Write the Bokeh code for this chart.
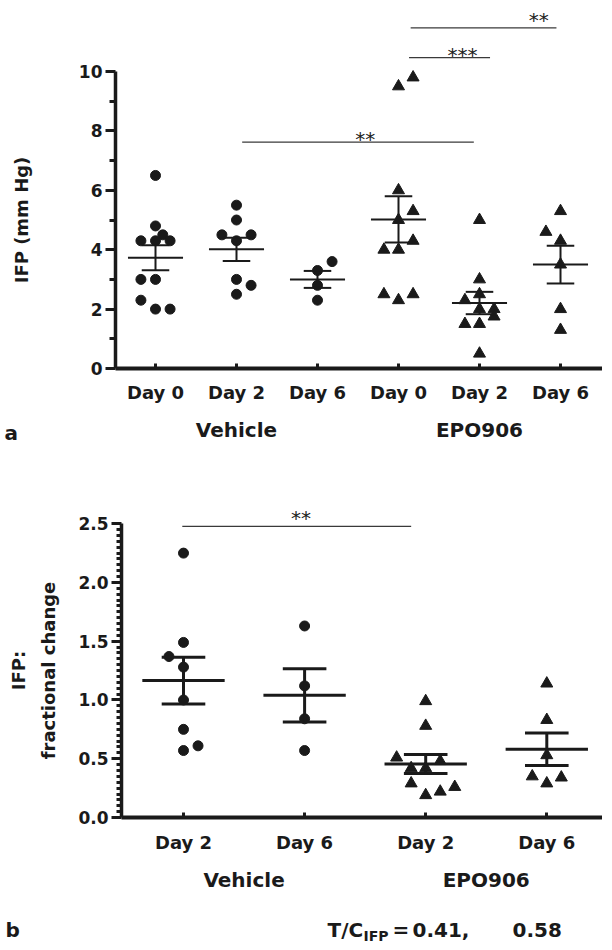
import numpy as np
from bokeh.plotting import figure
from bokeh.models import Range1d, FixedTicker, LinearAxis, ColumnDataSource
from bokeh.layouts import column
from bokeh.core.properties import value
from bokeh.embed import file_html
from bokeh.resources import INLINE

# ---------------- data: panel a (IFP, mm Hg) ----------------
a_tick_labels = ["Day 0", "Day 2", "Day 6", "Day 0", "Day 2", "Day 6"]
a_groups = ["Vehicle", "EPO906"]
a_veh_d0 = [6.5, 4.8, 4.5, 4.3, 4.3, 4.3, 3.0, 3.0, 2.3, 2.0, 2.0]
a_veh_d2 = [5.5, 5.0, 4.5, 4.5, 4.3, 3.0, 2.8, 2.5]
a_veh_d6 = [3.6, 3.3, 2.8, 2.3]
a_epo_d0 = [9.8, 9.5, 6.0, 5.3, 5.0, 4.3, 4.0, 4.0, 2.5, 2.5, 2.3]
a_epo_d2 = [5.0, 3.0, 2.5, 2.3, 2.0, 2.0, 1.75, 1.5, 1.5, 0.5]
a_epo_d6 = [5.3, 4.6, 4.3, 3.5, 2.0, 1.3]
# significance brackets
a_sig_from = [2.07, 4.13, 4.15]
a_sig_to = [4.93, 5.13, 5.95]
a_sig_y = [7.62, 10.47, 11.47]
a_sig_text = ["**", "***", "**"]
a_sig_text_x = [3.59, 4.79, 5.73]

# ---------------- data: panel b (fractional change) ----------------
b_tick_labels = ["Day 2", "Day 6", "Day 2", "Day 6"]
b_groups = ["Vehicle", "EPO906"]
b_veh_d2 = [2.25, 1.49, 1.37, 1.28, 1.0, 0.75, 0.61, 0.57]
b_veh_d6 = [1.63, 1.12, 0.84, 0.57]
b_epo_d2 = [0.99, 0.78, 0.51, 0.48, 0.42, 0.42, 0.29, 0.26, 0.22, 0.19]
b_epo_d6 = [1.14, 0.83, 0.53, 0.35, 0.34, 0.29]
b_sig_from = [0.99]
b_sig_to = [2.88]
b_sig_y = [2.478]
b_sig_text = ["**"]
b_sig_text_x = [1.97]
tc_values = ["0.41,", "0.58"]

# horizontal scatter (jitter) of the points, as drawn
a_jit = [
    [0, 0, 0.09, -0.18, 0, 0.18, -0.18, 0, -0.18, 0, 0.18],
    [0, 0, -0.18, 0.18, 0, 0, 0.18, 0],
    [0.18, 0, 0, 0],
    [0.18, 0, 0, 0.18, 0, 0.18, -0.18, 0, -0.18, 0.18, 0],
    [0, 0, 0, -0.18, 0, 0.18, 0.18, -0.18, 0, 0],
    [0, -0.18, 0, 0, 0, 0],
]
b_jit = [
    [0, 0, -0.12, 0, 0, 0, 0.12, 0],
    [0, 0, 0, 0],
    [0, 0, -0.24, 0.12, -0.12, 0, -0.12, 0.24, 0.12, 0],
    [0, 0, 0, -0.12, 0.12, 0],
]

INK = "#1a1a1a"
FONT = "DejaVu Sans"


def make_fig(w, h, xr, yr):
    p = figure(width=w, height=h, output_backend="svg", toolbar_location=None,
               x_range=Range1d(*xr), y_range=Range1d(*yr),
               x_axis_location=None, y_axis_location=None,
               min_border=0, min_border_left=0, min_border_right=0,
               min_border_top=0, min_border_bottom=0)
    p.grid.visible = False
    p.outline_line_color = None
    p.background_fill_color = "white"
    p.border_fill_color = "white"
    return p


def add_axes(p, x_origin, x_end, ticks, labels, y_major, y_minor, y_top, ylabel, ylabel_standoff,
             ylabel_lh, group_ticks, groups, xlab_standoff, grp_standoff, minor_out):
    xa = LinearAxis(fixed_location=0, bounds=(x_origin, x_end),
                    ticker=FixedTicker(ticks=ticks, minor_ticks=[]))
    xa.major_label_overrides = {t: l for t, l in zip(ticks, labels)}
    xa.axis_line_width = 4
    xa.axis_line_color = INK
    xa.major_tick_in = 5
    xa.major_tick_out = 0
    xa.major_tick_line_width = 3
    xa.major_tick_line_color = INK
    xa.minor_tick_line_color = None
    xa.major_label_text_font = FONT
    xa.major_label_text_font_style = "bold"
    xa.major_label_text_font_size = "18px"
    xa.major_label_text_color = INK
    xa.major_label_standoff = xlab_standoff
    p.add_layout(xa, "below")

    ga = LinearAxis(fixed_location=0, ticker=FixedTicker(ticks=group_ticks, minor_ticks=[]))
    ga.major_label_overrides = {t: g for t, g in zip(group_ticks, groups)}
    ga.axis_line_color = None
    ga.major_tick_line_color = None
    ga.minor_tick_line_color = None
    ga.major_label_text_font = FONT
    ga.major_label_text_font_style = "bold"
    ga.major_label_text_font_size = "20px"
    ga.major_label_text_color = INK
    ga.major_label_standoff = grp_standoff
    p.add_layout(ga, "below")

    ya = LinearAxis(fixed_location=x_origin, bounds=(0, y_top),
                    ticker=FixedTicker(ticks=y_major, minor_ticks=y_minor))
    ya.axis_line_width = 3.5
    ya.axis_line_color = INK
    ya.major_tick_out = 10
    ya.major_tick_in = 0
    ya.major_tick_line_width = 3
    ya.major_tick_line_color = INK
    ya.minor_tick_out = minor_out
    ya.minor_tick_in = 0
    ya.minor_tick_line_width = 3
    ya.minor_tick_line_color = INK
    ya.major_label_text_font = FONT
    ya.major_label_text_font_style = "bold"
    ya.major_label_text_font_size = "17px"
    ya.major_label_text_color = INK
    ya.major_label_standoff = 3
    ya.axis_label = ylabel
    ya.axis_label_text_font = FONT
    ya.axis_label_text_font_style = "bold"
    ya.axis_label_text_font_size = "18px"
    ya.axis_label_text_color = INK
    ya.axis_label_standoff = ylabel_standoff
    ya.axis_label_text_line_height = ylabel_lh
    p.add_layout(ya, "left")
    return ya


def draw_groups(p, groups_vals, jit, markers, size_c, size_t, mean_hw, cap_hw, lw):
    for i, (vals, jj, mk) in enumerate(zip(groups_vals, jit, markers)):
        xc = i + 1
        xs = [xc + j for j in jj]
        if mk == "circle":
            p.scatter(xs, vals, marker="circle", size=size_c, fill_color=INK, line_color=INK)
        else:
            p.scatter(xs, vals, marker="triangle", size=size_t, fill_color=INK, line_color=INK)
        v = np.array(vals, dtype=float)
        m = v.mean()
        sem = v.std(ddof=1) / np.sqrt(len(v))
        p.segment(x0=[xc - mean_hw], x1=[xc + mean_hw], y0=[m], y1=[m], line_color=INK, line_width=lw)
        p.segment(x0=[xc - cap_hw, xc - cap_hw], x1=[xc + cap_hw, xc + cap_hw],
                  y0=[m + sem, m - sem], y1=[m + sem, m - sem], line_color=INK, line_width=lw)
        p.segment(x0=[xc], x1=[xc], y0=[m - sem], y1=[m + sem], line_color=INK, line_width=lw)


def draw_sig(p, x0, x1, y, txt, tx, dy):
    p.segment(x0=x0, x1=x1, y0=y, y1=y, line_color="#3a3a3a", line_width=1.3)
    src = ColumnDataSource(dict(x=tx, y=y, t=txt, dy=dy))
    p.text(x="x", y="y", text="t", y_offset="dy", source=src, text_font=value(FONT),
           text_font_size="20px", text_align="center", text_baseline="alphabetic",
           text_color="#222222")


def put_text(p, xr, yr, w, h, px, py, txt, size):
    """Place a text at figure pixel (px from left, py from top), converted to data units."""
    x = xr[0] + px * (xr[1] - xr[0]) / w
    y = yr[1] - py * (yr[1] - yr[0]) / h
    p.text(x=[x], y=[y], text=[txt], text_font=value(FONT), text_font_style="bold",
           text_font_size=size, text_color=INK, text_align="left", text_baseline="alphabetic")


# ---------------- panel a ----------------
WA, HA = 602, 446
XA, YA = (-0.9136, 6.5185), (-2.626, 12.391)
pa = make_fig(WA, HA, XA, YA)
add_axes(pa, 0.506, 6.5185, [1, 2, 3, 4, 5, 6], a_tick_labels, [0, 2, 4, 6, 8, 10],
         [1, 3, 5, 7, 9], 10, "IFP (mm Hg)", 44, 1.2, [2, 5], a_groups, 13, 43, 6)
draw_groups(pa, [a_veh_d0, a_veh_d2, a_veh_d6, a_epo_d0, a_epo_d2, a_epo_d6], a_jit,
            ["circle"] * 3 + ["triangle"] * 3, 10, 12, 0.34, 0.17, 2)
draw_sig(pa, a_sig_from, a_sig_to, a_sig_y, a_sig_text, a_sig_text_x, [-3, -3, -8])
put_text(pa, XA, YA, WA, HA, 4, 432, "a", "20px")

# ---------------- panel b ----------------
WB, HB = 602, 496
XB, YB = (-0.5112, 4.46), (-1.0638, 3.1574)
pb = make_fig(WB, HB, XB, YB)
add_axes(pb, 0.488, 4.46, [1, 2, 3, 4], b_tick_labels, [0, 0.5, 1.0, 1.5, 2.0, 2.5],
         [round(0.05 * k, 2) for k in range(51) if k % 10 != 0], 2.5,
         "IFP:\nfractional change", 16, 1.46, [1.5, 3.5], b_groups, 14, 44, 5)
pb.yaxis[0].major_label_overrides = {0: "0.0", 0.5: "0.5", 1.0: "1.0", 1.5: "1.5",
                                     2.0: "2.0", 2.5: "2.5"}
draw_groups(pb, [b_veh_d2, b_veh_d6, b_epo_d2, b_epo_d6], b_jit,
            ["circle"] * 2 + ["triangle"] * 2, 10, 12, 0.34, 0.18, 3)
draw_sig(pb, b_sig_from, b_sig_to, b_sig_y, b_sig_text, b_sig_text_x, [-8])

put_text(pb, XB, YB, WB, HB, 5, 483, "b", "20px")
put_text(pb, XB, YB, WB, HB, 327, 483, "T/C", "20px")
put_text(pb, XB, YB, WB, HB, 363, 489, "IFP", "14px")
put_text(pb, XB, YB, WB, HB, 392, 483, "=", "20px")
put_text(pb, XB, YB, WB, HB, 412, 483, tc_values[0], "20px")
put_text(pb, XB, YB, WB, HB, 512, 483, tc_values[1], "20px")

layout = column(pa, pb)
open("out.html", "w").write(file_html(layout, INLINE))
